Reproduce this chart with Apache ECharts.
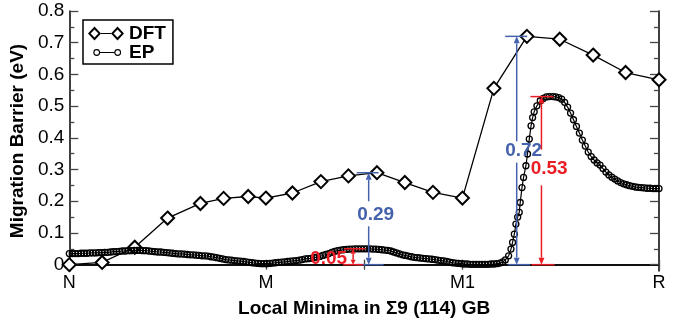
<!DOCTYPE html>
<html>
<head>
<meta charset="utf-8">
<script src="https://cdn.jsdelivr.net/npm/echarts@6/dist/echarts.min.js"></script>
<style>
  html, body { margin: 0; padding: 0; background: #fff; }
  #chart { width: 676px; height: 327px; }
</style>
</head>
<body>
<div id="chart"></div>
<script>
// ---- path coordinate: local minima along the grain boundary ----
const pathTickNames  = ['N', 'M', 'M1', 'R'];
const pathTickValues = [0, 1, 2, 3];
const pathTickMarks  = [0, 1, 1.5, 2, 3];

// ---- barrier axis ticks (eV) ----
const barrierMajorTicks = [0, 0.1, 0.2, 0.3, 0.4, 0.5, 0.6, 0.7, 0.8];
const barrierMinorTicks = [0.05, 0.15, 0.25, 0.35, 0.45, 0.55, 0.65, 0.75];

// ---- DFT (NEB images) ----
const dftX = [0, 0.167, 0.333, 0.5, 0.667, 0.785, 0.91, 1.0, 1.135, 1.28, 1.42,
              1.565, 1.707, 1.85, 2.0, 2.16, 2.328, 2.495, 2.665, 2.83, 3.0];
const dftY = [0, 0.007, 0.055, 0.147, 0.193, 0.209, 0.215, 0.21, 0.226, 0.262, 0.28,
              0.29, 0.259, 0.228, 0.21, 0.556, 0.72, 0.711, 0.661, 0.606, 0.583];

// ---- EP (empirical potential) path ----
const epX = [
  0, 0.015, 0.03, 0.045, 0.06, 0.075, 0.09, 0.105, 0.12, 0.135,
  0.15, 0.165, 0.18, 0.195, 0.21, 0.225, 0.24, 0.255, 0.27, 0.285,
  0.3, 0.315, 0.33, 0.345, 0.36, 0.375, 0.39, 0.405, 0.42, 0.435,
  0.45, 0.465, 0.48, 0.495, 0.51, 0.525, 0.54, 0.555, 0.57, 0.585,
  0.6, 0.615, 0.63, 0.645, 0.66, 0.675, 0.69, 0.705, 0.72, 0.735,
  0.75, 0.765, 0.78, 0.795, 0.81, 0.825, 0.84, 0.855, 0.87, 0.885,
  0.9, 0.915, 0.93, 0.945, 0.96, 0.975, 0.99, 1.005, 1.02, 1.035,
  1.05, 1.065, 1.08, 1.095, 1.11, 1.125, 1.14, 1.155, 1.17, 1.185,
  1.2, 1.215, 1.23, 1.245, 1.26, 1.275, 1.29, 1.305, 1.32, 1.335,
  1.35, 1.365, 1.38, 1.395, 1.41, 1.425, 1.44, 1.455, 1.47, 1.485,
  1.5, 1.515, 1.53, 1.545, 1.56, 1.575, 1.59, 1.605, 1.62, 1.635,
  1.65, 1.665, 1.68, 1.695, 1.71, 1.725, 1.74, 1.755, 1.77, 1.785,
  1.8, 1.815, 1.83, 1.845, 1.86, 1.875, 1.89, 1.905, 1.92, 1.935,
  1.95, 1.965, 1.98, 1.995, 2.01, 2.025, 2.04, 2.055, 2.07, 2.085,
  2.1, 2.115, 2.13, 2.145, 2.16, 2.175, 2.19, 2.205,
  2.218, 2.235, 2.247, 2.255, 2.264, 2.272, 2.281, 2.289, 2.294, 2.303,
  2.311, 2.323, 2.331, 2.34, 2.349, 2.357, 2.365, 2.379, 2.396, 2.411,
  2.427, 2.442,
  2.46, 2.475, 2.49, 2.505, 2.52, 2.535, 2.55, 2.565, 2.58, 2.595,
  2.61, 2.625, 2.64, 2.655, 2.67, 2.685, 2.7, 2.715, 2.73, 2.745,
  2.76, 2.775, 2.79, 2.805, 2.82, 2.835, 2.85, 2.865, 2.88, 2.895,
  2.91, 2.925, 2.94, 2.955, 2.97, 2.985, 3.0
];
const epY = [
  0.035, 0.035, 0.035, 0.035, 0.036, 0.036, 0.036, 0.037, 0.037, 0.037,
  0.038, 0.038, 0.039, 0.039, 0.040, 0.041, 0.041, 0.042, 0.043, 0.043,
  0.044, 0.044, 0.045, 0.045, 0.045, 0.044, 0.044, 0.043, 0.042, 0.041,
  0.040, 0.040, 0.039, 0.038, 0.037, 0.036, 0.035, 0.034, 0.034, 0.033,
  0.032, 0.031, 0.031, 0.030, 0.029, 0.028, 0.028, 0.027, 0.025, 0.024,
  0.022, 0.020, 0.018, 0.016, 0.015, 0.014, 0.013, 0.012, 0.011, 0.010,
  0.009, 0.007, 0.006, 0.005, 0.004, 0.003, 0.003, 0.003, 0.004, 0.005,
  0.006, 0.007, 0.008, 0.009, 0.010, 0.011, 0.012, 0.013, 0.014, 0.016,
  0.018, 0.019, 0.020, 0.022, 0.024, 0.026, 0.029, 0.032, 0.035, 0.039,
  0.042, 0.044, 0.046, 0.047, 0.048, 0.049, 0.049, 0.050, 0.050, 0.050,
  0.050, 0.050, 0.050, 0.049, 0.049, 0.048, 0.047, 0.046, 0.045, 0.043,
  0.040, 0.037, 0.034, 0.031, 0.029, 0.027, 0.025, 0.023, 0.022, 0.021,
  0.020, 0.019, 0.018, 0.017, 0.016, 0.014, 0.013, 0.012, 0.010, 0.008,
  0.006, 0.005, 0.004, 0.003, 0.002, 0.002, 0.001, 0.001, 0.001, 0.001,
  0.001, 0.001, 0.001, 0.002, 0.002, 0.003, 0.005, 0.009,
  0.015, 0.028, 0.049, 0.070, 0.096, 0.128, 0.150, 0.165, 0.196, 0.243,
  0.275, 0.312, 0.349, 0.396, 0.438, 0.464, 0.482, 0.501, 0.517, 0.524,
  0.529, 0.530,
  0.530, 0.529, 0.527, 0.522, 0.512, 0.497, 0.478, 0.457, 0.436, 0.415,
  0.393, 0.374, 0.355, 0.341, 0.330, 0.321, 0.314, 0.303, 0.292, 0.283,
  0.276, 0.270, 0.264, 0.259, 0.255, 0.252, 0.249, 0.247, 0.245, 0.244,
  0.243, 0.242, 0.241, 0.241, 0.240, 0.240, 0.240
];

// ---- barrier annotations: where each arrow stands, and its end values ----
const noteX    = [1.523, 1.444, 2.276, 2.402];
const noteBase = [0, 0, 0, 0];
const noteTop  = [0.29, 0.05, 0.72, 0.53];

const BLUE = '#4562ad';
const RED = '#ec1c24';
const FONT = '"Liberation Sans", Arial, Helvetica, sans-serif';

// drawing details for each annotation (pixel offsets, colours, label placement)
const noteStyles = [
  { color: BLUE, capTop: [-12, 10], capBot: [-13, 15], head: [7, 3], gap: [0.121, 0.2], labelAt: 0.158, labelDx: 7 },
  { color: RED,  capTop: [-9, 12],  capBot: [-10, 10], head: [5, 2.5], gap: null, labelAt: 0.018, labelDx: -24.5 },
  { color: BLUE, capTop: [-11.5, 10.5], capBot: [-8.5, 13.5], head: [7, 3], gap: [0.322, 0.389], labelAt: 0.358, labelDx: 7 },
  { color: RED,  capTop: [-11, 12], capBot: [-10, 13], head: [7, 3], gap: [0.25, 0.363], labelAt: 0.302, labelDx: 7.7 }
];

// legend glyphs: two hollow diamonds joined by a line; two hollow circles joined by a line
const DFT_ICON = 'path://M0 0L0 0M36 14L36 14' +
  'M6.5 0L13 7L6.5 14L0 7Z M6.5 3.1L2.6 7L6.5 10.9L10.4 7Z' +
  'M13 6.4L23 6.4L23 7.6L13 7.6Z' +
  'M29.5 0L36 7L29.5 14L23 7Z M29.5 3.1L25.6 7L29.5 10.9L33.4 7Z';
const EP_ICON = 'path://M0 0L0 0M36 14L36 14' +
  'M5.3 7A3.4 3.4 0 1 1 12.1 7A3.4 3.4 0 1 1 5.3 7Z M6.4 7A2.3 2.3 0 1 0 11 7A2.3 2.3 0 1 0 6.4 7Z' +
  'M12.1 6.4L26.3 6.4L26.3 7.6L12.1 7.6Z' +
  'M26.3 7A3.4 3.4 0 1 1 33.1 7A3.4 3.4 0 1 1 26.3 7Z M27.4 7A2.3 2.3 0 1 0 32 7A2.3 2.3 0 1 0 27.4 7Z';

const chart = echarts.init(document.getElementById('chart'), null, { renderer: 'canvas' });

const axisLineStyle = { show: true, lineStyle: { color: '#000', width: 1.5 } };
const tickLine = { color: '#444', width: 1.3 };
const yRange = { type: 'value', min: -0.02, max: 0.8, splitLine: { show: false } };
const xRange = { type: 'value', min: 0, max: 3, splitLine: { show: false } };

const option = {
  animation: false,
  backgroundColor: '#fff',
  grid: { left: 68, right: 17, top: 11, bottom: 56, containLabel: false },
  legend: {
    orient: 'vertical',
    left: 83,
    top: 20,
    padding: [4, 7, 2, 5],
    itemGap: 0,
    itemWidth: 36,
    itemHeight: 14,
    backgroundColor: '#fff',
    borderColor: '#000',
    borderWidth: 1.5,
    borderRadius: 0,
    selectedMode: false,
    itemStyle: { color: '#000', borderWidth: 0 },
    textStyle: { fontFamily: FONT, fontSize: 19, fontWeight: 'bold', color: '#000' },
    data: [
      { name: 'DFT', icon: DFT_ICON },
      { name: 'EP', icon: EP_ICON }
    ]
  },
  xAxis: [
    {
      ...xRange,
      position: 'bottom',
      axisLine: axisLineStyle,
      axisTick: { show: true, inside: true, length: 5, customValues: pathTickMarks, lineStyle: tickLine },
      axisLabel: {
        customValues: pathTickValues,
        formatter: v => pathTickNames[pathTickValues.indexOf(Math.round(v))],
        fontFamily: FONT, fontSize: 18, color: '#000', margin: 3
      },
      name: 'Local Minima in \u03A39 (114) GB',
      nameLocation: 'middle',
      nameGap: 28,
      nameTextStyle: { fontFamily: FONT, fontSize: 19, fontWeight: 'bold', color: '#000' }
    },
    {
      ...xRange,
      position: 'top',
      axisLine: axisLineStyle,
      axisTick: { show: true, inside: true, length: 5, customValues: pathTickMarks, lineStyle: tickLine },
      axisLabel: { show: false }
    }
  ],
  yAxis: [
    {
      ...yRange,
      position: 'left',
      axisLine: axisLineStyle,
      axisTick: { show: true, inside: true, length: 9, customValues: barrierMajorTicks, lineStyle: tickLine },
      axisLabel: {
        customValues: barrierMajorTicks,
        formatter: v => (Math.abs(v) < 1e-9 ? '0' : v.toFixed(1)),
        fontFamily: FONT, fontSize: 19, color: '#000', margin: 5
      },
      name: 'Migration Barrier (eV)',
      nameLocation: 'middle',
      nameGap: 31,
      nameTextStyle: { fontFamily: FONT, fontSize: 19, fontWeight: 'bold', color: '#000' }
    },
    {
      ...yRange,
      position: 'left',
      axisLine: { show: false },
      axisTick: { show: true, inside: true, length: 5, customValues: barrierMinorTicks, lineStyle: tickLine },
      axisLabel: { show: false }
    },
    {
      ...yRange,
      position: 'right',
      axisLine: axisLineStyle,
      axisTick: { show: true, inside: true, length: 9, customValues: barrierMajorTicks, lineStyle: tickLine },
      axisLabel: { show: false }
    },
    {
      ...yRange,
      position: 'right',
      axisLine: { show: false },
      axisTick: { show: true, inside: true, length: 5, customValues: barrierMinorTicks, lineStyle: tickLine },
      axisLabel: { show: false }
    }
  ],
  series: [
    {
      name: 'DFT',
      type: 'line',
      xAxisIndex: 0,
      yAxisIndex: 0,
      z: 2,
      data: dftX.map((x, i) => [x, dftY[i]]),
      symbol: 'diamond',
      symbolSize: 13,
      showAllSymbol: true,
      itemStyle: { color: '#fff', borderColor: '#000', borderWidth: 2 },
      lineStyle: { color: '#000', width: 1.3 },
      emphasis: { disabled: true }
    },
    {
      name: 'EP',
      type: 'line',
      xAxisIndex: 0,
      yAxisIndex: 0,
      z: 3,
      data: epX.map((x, i) => [x, epY[i]]),
      symbol: 'circle',
      symbolSize: 6,
      showAllSymbol: true,
      itemStyle: { color: 'rgba(0,0,0,0)', borderColor: '#000', borderWidth: 1.3 },
      lineStyle: { color: '#000', width: 1.2 },
      emphasis: { disabled: true }
    },
    {
      name: 'barriers',
      type: 'custom',
      xAxisIndex: 0,
      yAxisIndex: 0,
      z: 5,
      silent: true,
      clip: false,
      data: noteX.map((x, i) => [x, noteBase[i], noteTop[i]]),
      renderItem(params, api) {
        const i = params.dataIndex;
        const st = noteStyles[i];
        const c = st.color;
        const x = api.coord([noteX[i], noteBase[i]])[0];
        const yB = api.coord([noteX[i], noteBase[i]])[1];
        const yT = api.coord([noteX[i], noteTop[i]])[1];
        const seg = (x1, y1, x2, y2) => ({
          type: 'line', shape: { x1, y1, x2, y2 }, style: { stroke: c, lineWidth: 1.5 }
        });
        const [hl, hw] = st.head;
        const children = [
          seg(x + st.capTop[0], yT, x + st.capTop[1], yT),
          seg(x + st.capBot[0], yB, x + st.capBot[1], yB)
        ];
        if (st.gap) {
          const gLow = api.coord([noteX[i], st.gap[0]])[1];
          const gHigh = api.coord([noteX[i], st.gap[1]])[1];
          children.push(seg(x, yT + hl, x, gHigh), seg(x, gLow, x, yB - hl));
        } else {
          children.push(seg(x, yT + hl, x, yB - hl));
        }
        children.push({
          type: 'polygon', shape: { points: [[x, yT], [x - hw, yT + hl], [x + hw, yT + hl]] }, style: { fill: c }
        });
        children.push({
          type: 'polygon', shape: { points: [[x, yB], [x - hw, yB - hl], [x + hw, yB - hl]] }, style: { fill: c }
        });
        const ly = api.coord([noteX[i], st.labelAt])[1];
        children.push({
          type: 'text',
          x: x + st.labelDx,
          y: ly,
          style: {
            text: (noteTop[i] - noteBase[i]).toFixed(2),
            fill: c,
            fontFamily: FONT,
            fontSize: 19,
            fontWeight: 'bold',
            align: 'center',
            verticalAlign: 'middle'
          }
        });
        return { type: 'group', children };
      }
    }
  ]
};

chart.setOption(option);
</script>
</body>
</html>
